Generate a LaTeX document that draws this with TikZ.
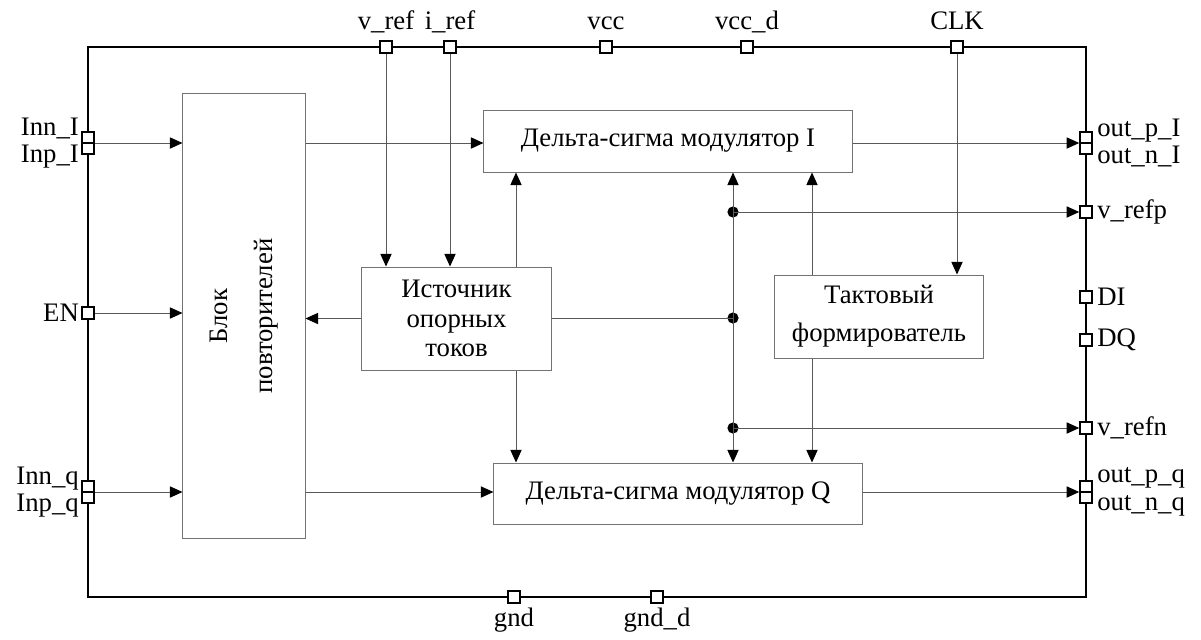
\documentclass[tikz,border=0pt]{standalone}
\usepackage{fontspec}
\setmainfont{Liberation Serif}
\usetikzlibrary{arrows.meta}

\begin{document}
\begin{tikzpicture}[x=0.025cm,y=-0.025cm,
  font=\fontsize{19}{21}\selectfont,
  blk/.style={draw=black!55,line width=0.7pt,inner sep=0pt,align=center},
  conn/.style={draw=black!65,line width=0.7pt},
  arr/.style={conn,-{Triangle[length=9pt,width=8pt,color=black]}},
  pin/.style={draw=black,fill=white,line width=1.4pt,minimum size=0.29cm,inner sep=0pt},
  dpin/.style={pin,minimum height=0.56cm,path picture={\draw[line width=1.4pt] (path picture bounding box.west) -- (path picture bounding box.east);}},
  dot/.style={circle,fill=black,minimum size=0.28cm,inner sep=0pt},
  lbl/.style={inner sep=3pt},
  toplbl/.style={inner sep=3pt,text height=13pt,text depth=4.5pt}]
\path[use as bounding box] (0,0) rectangle (1201,639);
% frame
\draw[line width=1.8pt] (88,47) rectangle (1086,597);
% blocks
\node[blk,minimum width=3.05cm,minimum height=11.1cm] (rep) at (244,316) {};
\node[rotate=90,align=center,font=\fontsize{19}{32}\selectfont] (reptxt) at (rep) {Блок\\повторителей};
\node[blk,minimum width=9.2cm,minimum height=1.55cm] (modI) at (668,141) {Дельта-сигма модулятор I};
\node[blk,minimum width=4.725cm,minimum height=2.575cm] (src) at (456.5,318.5) {Источник\\опорных\\токов};
\node[blk,minimum width=5.2cm,minimum height=2.075cm,font=\fontsize{19}{27}\selectfont] (clkgen) at (879,316.5) {Тактовый\\формирователь};
\node[blk,minimum width=9.2cm,minimum height=1.525cm] (modQ) at (678,493.5) {Дельта-сигма модулятор Q};
% pins
\node[pin,label={[toplbl]above:v\_ref}] (vref) at (386,47) {};
\node[pin,label={[toplbl]above:i\_ref}] (iref) at (450,47) {};
\node[pin,label={[toplbl]above:vcc}] (vcc) at (606,47) {};
\node[pin,label={[toplbl]above:vcc\_d}] (vccd) at (747,47) {};
\node[pin,label={[toplbl]above:CLK}] (clk) at (957,47) {};
\node[pin,label={[lbl]below:gnd}] (gnd) at (514,597) {};
\node[pin,label={[lbl]below:gnd\_d}] (gndd) at (657,597) {};
\node[dpin,label={[lbl,inner sep=1.5pt,align=right,font=\fontsize{19}{19.5}\selectfont]left:{Inn\_I\\Inp\_I}}] (innI) at (88,143) {};
\node[pin,label={[lbl,inner sep=1.5pt]left:EN}] (en) at (88,313) {};
\node[dpin,label={[lbl,inner sep=1.5pt,align=right,font=\fontsize{19}{19.5}\selectfont]left:{Inn\_q\\Inp\_q}}] (innq) at (88,492) {};
\node[dpin,label={[lbl,align=left,font=\fontsize{19}{19.5}\selectfont]right:{out\_p\_I\\out\_n\_I}}] (outI) at (1086,143) {};
\node[pin,label={[lbl]right:v\_refp}] (refp) at (1086,212) {};
\node[pin,label={[lbl]right:DI}] (di) at (1086,297) {};
\node[pin,label={[lbl]right:DQ}] (dq) at (1086,340) {};
\node[pin,label={[lbl]right:v\_refn}] (refn) at (1086,428) {};
\node[dpin,label={[lbl,align=left,font=\fontsize{19}{19.5}\selectfont]right:{out\_p\_q\\out\_n\_q}}] (outq) at (1086,492) {};
% junctions
\node[dot] (d1) at (733,212) {};
\node[dot] (d2) at (733,318) {};
\node[dot] (d3) at (733,428) {};
\coordinate (srcx) at (516,0);
\coordinate (clkx) at (812,0);
% connectors
\draw[arr] (innI.east) -- (innI -| rep.west);
\draw[arr] (en.east) -- (en -| rep.west);
\draw[arr] (innq.east) -- (innq -| rep.west);
\draw[arr] (rep.east |- innI) -- (modI.west |- innI);
\draw[arr] (rep.east |- innq) -- (modQ.west |- innq);
\draw[arr] (modI.east |- outI) -- (outI.west);
\draw[arr] (modQ.east |- outq) -- (outq.west);
\draw[arr] (vref.south) -- (vref |- src.north);
\draw[arr] (iref.south) -- (iref |- src.north);
\draw[arr] (clk.south) -- (clk |- clkgen.north);
\draw[arr] (src.west) -- (rep.east |- src.west);
\draw[arr] (src.north -| srcx) -- (modI.south -| srcx);
\draw[arr] (src.south -| srcx) -- (modQ.north -| srcx);
\draw[conn] (src.east |- d2) -- (d2.center);
\draw[arr] (d1.center) -- (modI.south -| d1);
\draw[conn] (d1.center) -- (d3.center);
\draw[arr] (d3.center) -- (modQ.north -| d3);
\draw[arr] (d1.center) -- (refp.west);
\draw[arr] (d3.center) -- (refn.west);
\draw[arr] (clkgen.north -| clkx) -- (modI.south -| clkx);
\draw[arr] (clkgen.south -| clkx) -- (modQ.north -| clkx);
\end{tikzpicture}
\end{document}
